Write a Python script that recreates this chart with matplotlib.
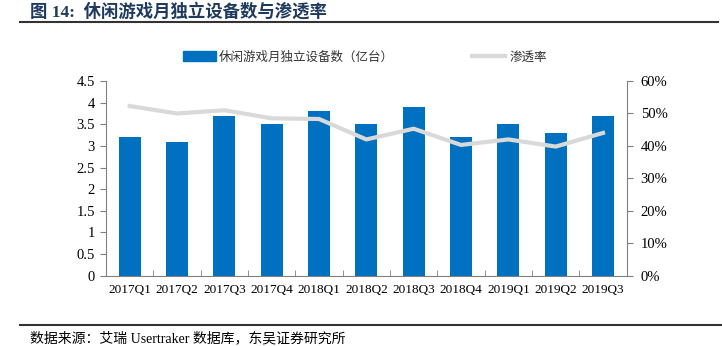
# -*- coding: utf-8 -*-
import matplotlib
matplotlib.use('Agg')
from matplotlib import pyplot as plt
from matplotlib.ticker import FuncFormatter
from matplotlib.lines import Line2D

# 中文用思源黑体，数字和英文用衬线体
plt.rcParams['font.family'] = ['Liberation Serif', 'Noto Sans CJK SC']
plt.rcParams['axes.unicode_minus'] = False

quarters = ["2017Q1", "2017Q2", "2017Q3", "2017Q4", "2018Q1", "2018Q2",
            "2018Q3", "2018Q4", "2019Q1", "2019Q2", "2019Q3"]
devices = [3.2, 3.1, 3.7, 3.5, 3.8, 3.5, 3.9, 3.2, 3.5, 3.3, 3.7]
penetration = [52.3, 50.0, 51.0, 48.5, 48.3, 42.0, 45.3, 40.3, 42.0, 39.8, 44.0]

bar_color = '#0070C0'
line_color = '#D9D9D9'
axis_color = '#808080'

fig = plt.figure(figsize=(7.22, 3.46), dpi=100)
ax = fig.add_axes([0.1468, 0.2032, 0.7212, 0.5626])
ax2 = ax.twinx()

x = range(len(quarters))
ax.bar(x, devices, width=0.47, color=bar_color, zorder=2)
ax2.plot(x, penetration, color=line_color, linewidth=3, solid_joinstyle='round',
         zorder=3)

# 柱子在线的下面
ax.set_zorder(1)
ax2.set_zorder(2)
ax.patch.set_visible(False)

ax.set_xlim(-0.5, len(quarters) - 0.5)
ax.set_ylim(0, 4.5)
ax.set_yticks([0, 0.5, 1, 1.5, 2, 2.5, 3, 3.5, 4, 4.5])
ax.set_yticklabels(['0', '0.5', '1', '1.5', '2', '2.5', '3', '3.5', '4', '4.5'])
ax2.set_ylim(0, 60)
ax2.set_yticks(range(0, 61, 10))
ax2.yaxis.set_major_formatter(FuncFormatter(lambda v, p: '%d%%' % v))

ax.set_xticks(list(x))
ax.set_xticklabels(quarters)
ax.set_xticks([i + 0.5 for i in range(-1, len(quarters))], minor=True)
ax.tick_params(axis='x', which='major', length=0, pad=6, labelsize=9.5)
ax.tick_params(axis='x', which='minor', length=4, color=axis_color, direction='in')
ax.tick_params(axis='y', length=4, color=axis_color, labelsize=10.5, pad=4)
ax2.tick_params(axis='y', length=4, color=axis_color, labelsize=10.5, pad=6)

for a in (ax, ax2):
    a.spines['top'].set_visible(False)
    for s in ('left', 'right', 'bottom'):
        a.spines[s].set_color(axis_color)
ax.spines['right'].set_visible(False)
ax2.spines['left'].set_visible(False)
ax2.spines['bottom'].set_visible(False)

# 图例，两项分开摆放
leg_font = {'family': ['Noto Sans CJK SC'], 'size': 9}
leg1 = fig.legend([plt.Rectangle((0, 0), 1, 1, color=bar_color)],
                  ['休闲游戏月独立设备数（亿台）'],
                  loc='center left', bbox_to_anchor=(0.2535, 0.835), frameon=False,
                  prop=leg_font, handlelength=2.65, handleheight=0.8,
                  handletextpad=0.2, borderpad=0, borderaxespad=0,
                  labelcolor='#333333')
leg2 = fig.legend([Line2D([0], [0], color=line_color, linewidth=3)], ['渗透率'],
                  loc='center left', bbox_to_anchor=(0.654, 0.835), frameon=False,
                  prop=leg_font, handlelength=2.65, handletextpad=0.3,
                  borderpad=0, borderaxespad=0, labelcolor='#333333')

# 标题和来源
fig.text(0.042, 0.965, '图 14:  休闲游戏月独立设备数与渗透率', fontsize=12.5,
         fontweight='bold', color='#1F3A5F', va='center',
         family=['Liberation Serif', 'Noto Sans CJK SC'])
fig.add_artist(Line2D([0.028, 0.995], [0.936, 0.936], color='#333333', linewidth=1.5))
fig.add_artist(Line2D([0.028, 0.998], [0.061, 0.061], color='#333333', linewidth=1.5))
fig.text(0.042, 0.022, '数据来源：艾瑞 Usertraker 数据库，东吴证券研究所', fontsize=10,
         va='center', family=['Liberation Serif', 'Noto Sans CJK SC'])

plt.savefig('out.png', dpi=100)
